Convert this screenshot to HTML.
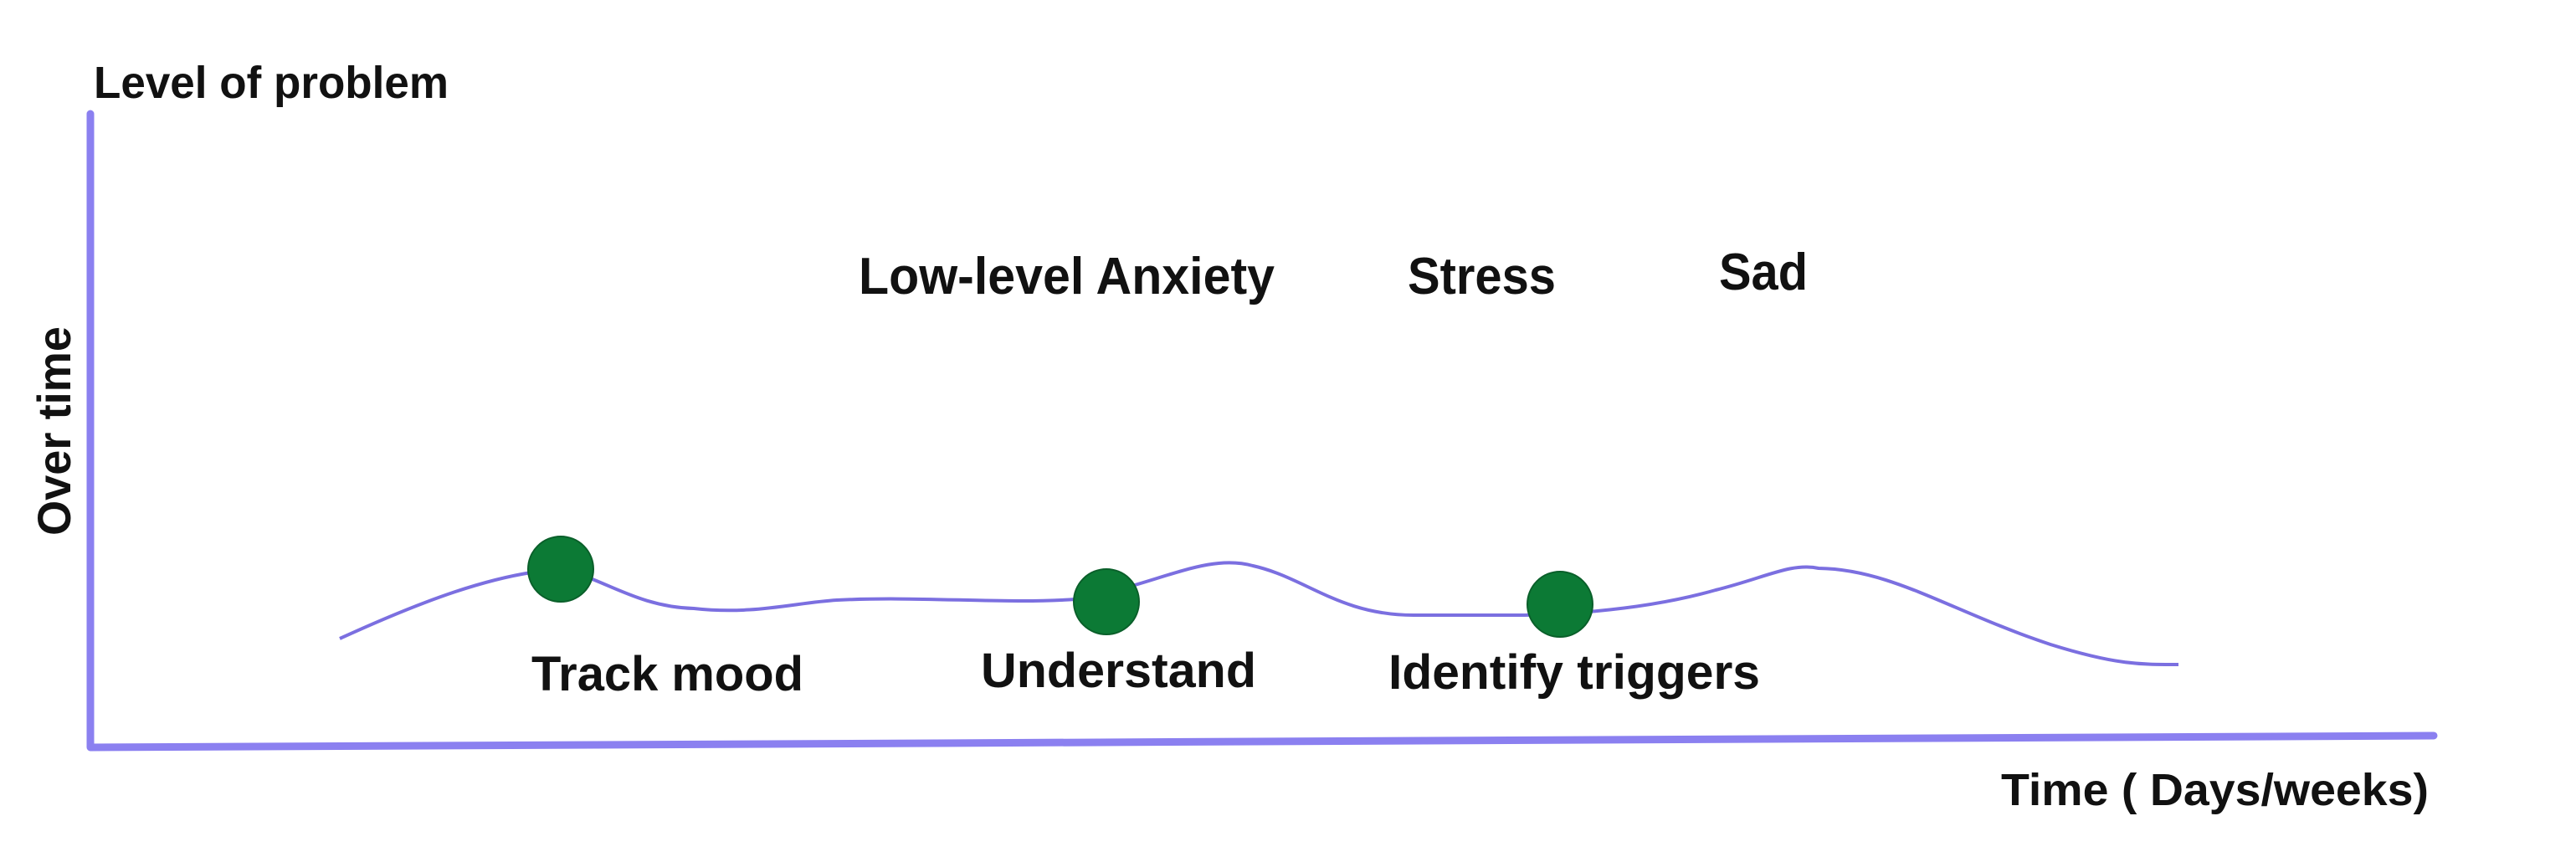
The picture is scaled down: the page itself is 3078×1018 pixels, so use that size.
<!DOCTYPE html>
<html><head><meta charset="utf-8"><style>
html,body{margin:0;padding:0;background:#fff;}
svg{display:block;}
text{font-family:"Liberation Sans",sans-serif;font-weight:bold;fill:#111;}
</style></head><body>
<svg width="3078" height="1018" viewBox="0 0 3078 1018" xmlns="http://www.w3.org/2000/svg">
<rect width="3078" height="1018" fill="#fff"/>
<!-- axes -->
<path d="M108,136 L108,893 L2908,879" fill="none" stroke="#8b80f0" stroke-width="9" stroke-linecap="round" stroke-linejoin="round"/>
<!-- curve -->
<path d="M406,763 C500,720 590,685 670,680 C720,690 760,725 829,727 C900,735 950,720 1000,717 C1100,712 1200,722 1285,716 C1380,700 1440,660 1497,676 C1560,690 1600,735 1689,735 L1822,735 C1900,733 1980,725 2050,705 C2110,690 2140,672 2173,679 C2260,680 2330,730 2450,770 C2530,795 2560,794 2603,794" fill="none" stroke="#7b6fe0" stroke-width="4"/>
<!-- dots -->
<circle cx="670" cy="680" r="39" fill="#0c7a35" stroke="#0a5f2a" stroke-width="2"/>
<circle cx="1322" cy="719" r="39" fill="#0c7a35" stroke="#0a5f2a" stroke-width="2"/>
<circle cx="1864" cy="722" r="39" fill="#0c7a35" stroke="#0a5f2a" stroke-width="2"/>
<!-- labels -->
<text x="112" y="117" font-size="54" textLength="424" lengthAdjust="spacingAndGlyphs">Level of problem</text>
<text transform="translate(84,640) rotate(-90)" font-size="56" textLength="250" lengthAdjust="spacingAndGlyphs">Over time</text>
<text x="1026" y="351" font-size="62" textLength="497" lengthAdjust="spacingAndGlyphs">Low-level Anxiety</text>
<text x="1682" y="351" font-size="62" textLength="177" lengthAdjust="spacingAndGlyphs">Stress</text>
<text x="2054" y="346" font-size="62" textLength="106" lengthAdjust="spacingAndGlyphs">Sad</text>
<text x="635" y="825" font-size="58" textLength="325" lengthAdjust="spacingAndGlyphs">Track mood</text>
<text x="1172" y="821" font-size="58" textLength="329" lengthAdjust="spacingAndGlyphs">Understand</text>
<text x="1659" y="823" font-size="58" textLength="444" lengthAdjust="spacingAndGlyphs">Identify triggers</text>
<text x="2391" y="962" font-size="54" textLength="511" lengthAdjust="spacingAndGlyphs">Time ( Days/weeks)</text>
</svg>
</body></html>
